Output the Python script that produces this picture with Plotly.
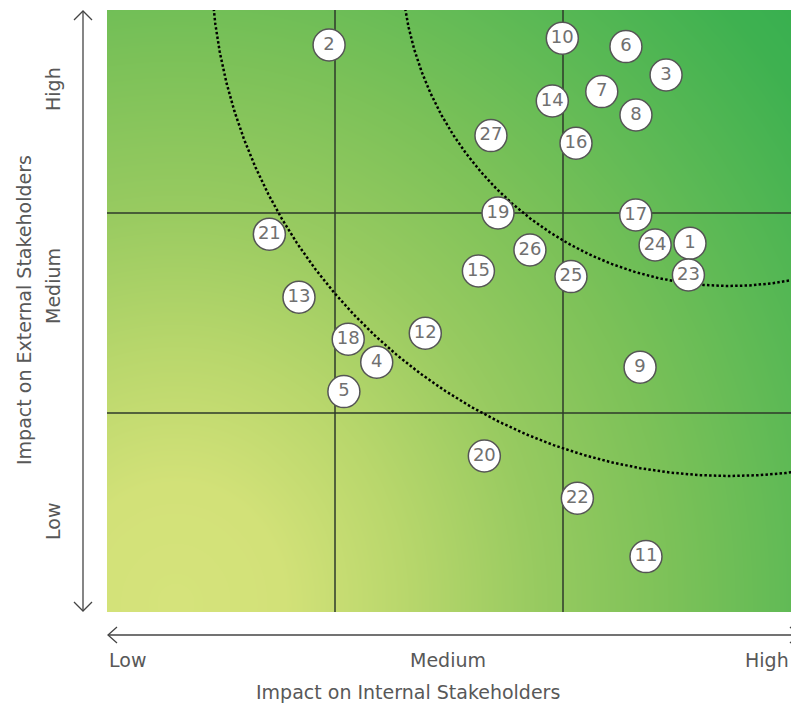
import numpy as np
import plotly.graph_objects as go

# Materiality topics: id, impact on internal stakeholders (x), impact on external stakeholders (y)
topic_ids = ["1", "2", "3", "4", "5", "6", "7", "8", "9", "10", "11", "12", "13", "14",
             "15", "16", "17", "18", "19", "20", "21", "22", "23", "24", "25", "26", "27"]
internal_impact = [2.557, 0.974, 2.452, 1.183, 1.039, 2.276, 2.170, 2.320, 2.338, 1.997, 2.364, 1.396, 0.842, 1.953,
                   1.629, 2.057, 2.319, 1.058, 1.715, 1.655, 0.712, 2.063, 2.550, 2.404, 2.035, 1.855, 1.684]
external_impact = [1.849, 2.840, 2.690, 1.254, 1.107, 2.832, 2.607, 2.490, 1.229, 2.874, 0.282, 1.399, 1.579, 2.560,
                   1.710, 2.349, 1.990, 1.369, 2.000, 0.785, 1.894, 0.574, 1.690, 1.840, 1.682, 1.815, 2.387]

level_labels = ["Low", "Medium", "High"]
band_breaks = [1, 2]

# Figure geometry (pixels)
W, H = 791, 703
ML, MR, MT, MB = 107, 0, 10, 91
PW, PH = W - ML - MR, H - MT - MB
X_RANGE = [0.0, 3.0]
Y_RANGE = [0.005, 3.015]
sx = PW / (X_RANGE[1] - X_RANGE[0])
sy = PH / (Y_RANGE[1] - Y_RANGE[0])


def paper_x(px):
    return (px - ML) / PW


def paper_y(py):
    return (MT + PH - py) / PH


def data_x(px):
    return X_RANGE[0] + (px - ML) / sx


def data_y(py):
    return Y_RANGE[0] + (MT + PH - py) / sy


FONT = "DejaVu Sans"
TEXT_GREY = "#585858"
LINE_DARK = "#2e3a2a"

fig = go.Figure()

# Background: soft radial gradient from yellow-green (low/low) to deep green (high/high)
gx = np.linspace(X_RANGE[0], X_RANGE[1], 121)
gy = np.linspace(Y_RANGE[0], Y_RANGE[1], 121)
GX, GY = np.meshgrid(gx, gy)
fx, fy = 0.3, 0.05
dist = np.sqrt(((GX - fx) * sx * 1.1) ** 2 + ((GY - fy) * sy) ** 2)
dmax = 1000.0
stops = [(0, "#d5e37b"), (120, "#d2e178"), (250, "#b9d76c"), (400, "#97ca60"),
         (550, "#7bc158"), (700, "#5cb955"), (850, "#3eb150"), (1000, "#2eae4e")]
fig.add_trace(go.Heatmap(
    x=gx, y=gy, z=dist, zmin=0, zmax=dmax, zsmooth="best",
    colorscale=[[d / dmax, c] for d, c in stops],
    showscale=False, hoverinfo="skip",
))

# Band separators
for b in band_breaks:
    fig.add_trace(go.Scatter(x=[b, b], y=Y_RANGE, mode="lines",
                             line=dict(color=LINE_DARK, width=1.5),
                             hoverinfo="skip", showlegend=False))
    fig.add_trace(go.Scatter(x=X_RANGE, y=[b, b], mode="lines",
                             line=dict(color=LINE_DARK, width=1.5),
                             hoverinfo="skip", showlegend=False))

# Dotted priority arcs (concentric, centred above the top-right corner)
arc_cx, arc_cy = data_x(730), data_y(-43)
for r_px in (329, 519):
    t = np.linspace(0.85 * np.pi, 1.75 * np.pi, 800)
    fig.add_trace(go.Scatter(
        x=arc_cx + (r_px / sx) * np.cos(t),
        y=arc_cy + (r_px / sy) * np.sin(t),
        mode="lines", line=dict(color="#000000", width=2.5, dash="2.5px,2.2px"),
        hoverinfo="skip", showlegend=False))

# Topic bubbles
fig.add_trace(go.Scatter(
    x=internal_impact, y=external_impact, text=topic_ids,
    mode="markers+text", textposition="middle center",
    marker=dict(size=32, color="#ffffff", line=dict(color="#555555", width=1.5)),
    textfont=dict(family=FONT, size=18, color="#707070"),
    hovertemplate="Topic %{text}<extra></extra>", showlegend=False, cliponaxis=False,
))

# Axis arrows drawn outside the plot area
arrow_line = dict(color="#444444", width=1.3)
shapes = []
ax_x = 83
shapes.append(dict(type="line", xref="paper", yref="paper",
                   x0=paper_x(ax_x), x1=paper_x(ax_x), y0=paper_y(11), y1=paper_y(611), line=arrow_line))
shapes.append(dict(type="path", xref="paper", yref="paper", line=arrow_line,
                   path=f"M {paper_x(74)} {paper_y(20)} L {paper_x(ax_x)} {paper_y(11)} L {paper_x(92)} {paper_y(20)}"))
shapes.append(dict(type="path", xref="paper", yref="paper", line=arrow_line,
                   path=f"M {paper_x(74)} {paper_y(602)} L {paper_x(ax_x)} {paper_y(611)} L {paper_x(92)} {paper_y(602)}"))
ax_y = 635
shapes.append(dict(type="line", xref="paper", yref="paper",
                   x0=paper_x(108), x1=paper_x(799), y0=paper_y(ax_y), y1=paper_y(ax_y), line=arrow_line))
shapes.append(dict(type="path", xref="paper", yref="paper", line=arrow_line,
                   path=f"M {paper_x(117)} {paper_y(627)} L {paper_x(108)} {paper_y(ax_y)} L {paper_x(117)} {paper_y(643)}"))
shapes.append(dict(type="path", xref="paper", yref="paper", line=arrow_line,
                   path=f"M {paper_x(790)} {paper_y(627)} L {paper_x(799)} {paper_y(ax_y)} L {paper_x(790)} {paper_y(643)}"))

label_font = dict(family=FONT, size=19, color=TEXT_GREY)
annotations = []
# Vertical axis level labels and title
for lab, py in zip(level_labels, [522, 286, 89]):
    annotations.append(dict(text=lab, x=paper_x(53), y=paper_y(py), xref="paper", yref="paper",
                            textangle=-90, showarrow=False, font=label_font,
                            xanchor="center", yanchor="middle"))
annotations.append(dict(text="Impact on External Stakeholders", x=paper_x(24), y=paper_y(310),
                        xref="paper", yref="paper", textangle=-90, showarrow=False,
                        font=label_font, xanchor="center", yanchor="middle"))
# Horizontal axis level labels and title
annotations.append(dict(text=level_labels[0], x=0, y=paper_y(660), xref="paper", yref="paper",
                        showarrow=False, font=label_font, xanchor="left", yanchor="middle"))
annotations.append(dict(text=level_labels[1], x=paper_x(448), y=paper_y(660), xref="paper", yref="paper",
                        showarrow=False, font=label_font, xanchor="center", yanchor="middle"))
annotations.append(dict(text=level_labels[2], x=1, y=paper_y(660), xref="paper", yref="paper",
                        showarrow=False, font=label_font, xanchor="right", yanchor="middle"))
annotations.append(dict(text="Impact on Internal Stakeholders", x=paper_x(408), y=paper_y(692),
                        xref="paper", yref="paper", showarrow=False, font=label_font,
                        xanchor="center", yanchor="middle"))

fig.update_layout(
    width=W, height=H,
    margin=dict(l=ML, r=MR, t=MT, b=MB, pad=0),
    paper_bgcolor="#ffffff", plot_bgcolor="#ffffff",
    xaxis=dict(range=X_RANGE, showgrid=False, zeroline=False, showticklabels=False,
               ticks="", showline=False, fixedrange=True),
    yaxis=dict(range=Y_RANGE, showgrid=False, zeroline=False, showticklabels=False,
               ticks="", showline=False, fixedrange=True),
    shapes=shapes, annotations=annotations, showlegend=False,
    font=dict(family=FONT, color=TEXT_GREY),
)

fig.write_html("out.html", config={"displayModeBar": False})
